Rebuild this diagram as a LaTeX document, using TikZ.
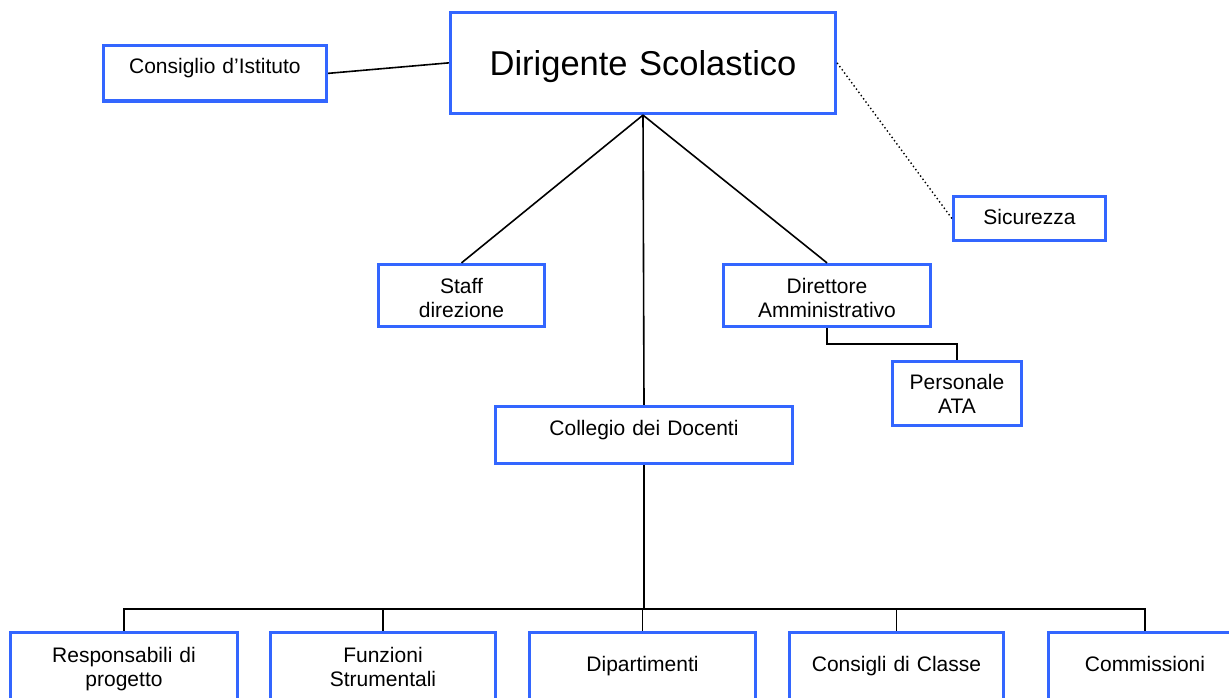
\documentclass[tikz,border=0pt]{standalone}
\usepackage{fontspec}
\setmainfont{Liberation Sans}
\definecolor{boxblue}{RGB}{51,102,255}
\begin{document}
\begin{tikzpicture}[x=1pt,y=-1pt,
  box/.style={draw=boxblue, line width=3.5pt, rectangle, inner sep=0pt, align=center,
              font=\fontsize{21}{24}\selectfont},
  link/.style={draw=black, line width=1.6pt},
  dots/.style={draw=black, line width=1.4pt, dash pattern=on 1.4pt off 2.6pt}]
\useasboundingbox (0,0) rectangle (1229,698);

% top level
\node[box, font=\fontsize{34.5}{40}\selectfont, minimum width=384.7pt, minimum height=101pt,
      text width=370pt, text height=36.3pt, text depth=10pt] (dir) at (643,62.85) {Dirigente Scolastico};
\node[box, minimum width=223pt, minimum height=55.4pt, text width=215pt,
      text height=11.3pt, text depth=10pt] (cons) at (214.9,73.35) {Consiglio d’Istituto};
\node[box, minimum width=151.7pt, minimum height=43.7pt, text width=140pt,
      text height=21pt, text depth=10pt] (sic) at (1029.5,218.5) {Sicurezza};

% second level
\node[box, minimum width=165.7pt, minimum height=61.7pt, text width=155pt,
      text height=5pt, text depth=10pt] (staff) at (461.5,295.5) {Staff\\direzione};
\node[box, minimum width=206.7pt, minimum height=61.7pt, text width=200pt,
      text height=5pt, text depth=10pt] (dam) at (827,295.5) {Direttore\\Amministrativo};
\node[box, minimum width=128.7pt, minimum height=63.7pt, text width=120pt,
      text height=1pt, text depth=10pt] (ata) at (957,393.5) {Personale\\ATA};
\node[box, minimum width=296.7pt, minimum height=56.7pt, text width=285pt,
      text height=10pt, text depth=10pt] (col) at (644,435) {Collegio dei Docenti};

% bottom row
\node[box, minimum width=226.7pt, minimum height=70.35pt, text width=215pt,
      text height=3.4pt, text depth=15pt] (resp) at (124,667.8) {Responsabili di\\progetto};
\node[box, minimum width=224.7pt, minimum height=70.35pt, text width=215pt,
      text height=3.4pt, text depth=15pt] (funz) at (383,667.8) {Funzioni\\Strumentali};
\node[box, minimum width=225.7pt, minimum height=70.35pt, text width=215pt,
      text height=16.4pt, text depth=10pt] (dip) at (642.5,667.8) {Dipartimenti};
\node[box, minimum width=213.7pt, minimum height=70.35pt, text width=205pt,
      text height=16.4pt, text depth=10pt] (cdc) at (896.5,667.8) {Consigli di Classe};
\node[box, minimum width=192.7pt, minimum height=70.35pt, text width=185pt,
      text height=16.4pt, text depth=10pt] (comm) at (1145,667.8) {Commissioni};

% connectors
\draw[link] (cons.east) -- (dir.west);
\draw[dots] (dir.east) -- (sic.west);
\draw[link] (dir.south) -- (staff.north);
\draw[link] (dir.south) -- (dam.north);
\draw[link] (dir.south) -- (col.north);
\coordinate (j1) at (827,344);
\draw[link] (dam.south) -- (j1) -| (ata.north);

\coordinate (bus) at (0,609);
\draw[link] (col.south) -- (col.south |- bus);
\draw[link] (resp.north) |- (comm.north |- bus) -- (comm.north);
\draw[link] (funz.north) -- (funz.north |- bus);
\draw[link] (dip.north) -- (dip.north |- bus);
\draw[link] (cdc.north) -- (cdc.north |- bus);
\end{tikzpicture}
\end{document}
